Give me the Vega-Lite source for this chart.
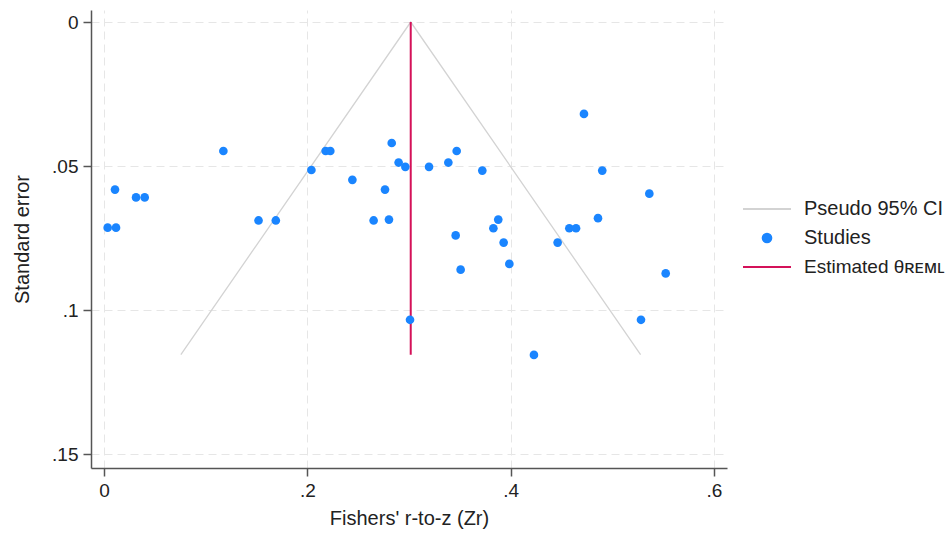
{
  "$schema": "https://vega.github.io/schema/vega-lite/v6.json",
  "autosize": {"type": "none"},
  "padding": {"left": 91, "top": 10, "right": 223, "bottom": 65},
  "width": 636,
  "height": 458,
  "background": "white",
  "config": {
    "view": {"stroke": null},
    "font": "Liberation Sans",
    "axis": {
      "labelFont": "Liberation Sans",
      "titleFont": "Liberation Sans",
      "labelFontSize": 19,
      "titleFontSize": 20,
      "titleFontWeight": "normal",
      "labelColor": "#222",
      "titleColor": "#222",
      "domainColor": "#555",
      "domainWidth": 1.5,
      "tickColor": "#555",
      "tickWidth": 1.5,
      "tickSize": 8,
      "gridColor": "#e6e6e6",
      "gridWidth": 1,
      "gridDash": [8, 5]
    }
  },
  "datasets": {
    "funnel": [
      {"series": "Pseudo 95% CI", "ord": 1, "zr": 0.0756, "se": 0.1155},
      {"series": "Pseudo 95% CI", "ord": 2, "zr": 0.3017, "se": 0.0},
      {"series": "Pseudo 95% CI", "ord": 3, "zr": 0.5278, "se": 0.1155}
    ],
    "estimate": [
      {"series": "Estimated θʀᴇᴍʟ", "zr": 0.3017, "se": 0.0, "se2": 0.1155}
    ],
    "studies": [
      {"series": "Studies", "zr": 0.0036, "se": 0.0714},
      {"series": "Studies", "zr": 0.0118, "se": 0.0714},
      {"series": "Studies", "zr": 0.0108, "se": 0.0582},
      {"series": "Studies", "zr": 0.0315, "se": 0.0609},
      {"series": "Studies", "zr": 0.0400, "se": 0.0609},
      {"series": "Studies", "zr": 0.1174, "se": 0.0448},
      {"series": "Studies", "zr": 0.1520, "se": 0.0689},
      {"series": "Studies", "zr": 0.1690, "se": 0.0689},
      {"series": "Studies", "zr": 0.2040, "se": 0.0514},
      {"series": "Studies", "zr": 0.2180, "se": 0.0448},
      {"series": "Studies", "zr": 0.2226, "se": 0.0448},
      {"series": "Studies", "zr": 0.2443, "se": 0.0548},
      {"series": "Studies", "zr": 0.2830, "se": 0.0420},
      {"series": "Studies", "zr": 0.2898, "se": 0.0488},
      {"series": "Studies", "zr": 0.2964, "se": 0.0503},
      {"series": "Studies", "zr": 0.2764, "se": 0.0582},
      {"series": "Studies", "zr": 0.2652, "se": 0.0689},
      {"series": "Studies", "zr": 0.2803, "se": 0.0686},
      {"series": "Studies", "zr": 0.3197, "se": 0.0503},
      {"series": "Studies", "zr": 0.3387, "se": 0.0488},
      {"series": "Studies", "zr": 0.3469, "se": 0.0448},
      {"series": "Studies", "zr": 0.3459, "se": 0.0741},
      {"series": "Studies", "zr": 0.3721, "se": 0.0516},
      {"series": "Studies", "zr": 0.4721, "se": 0.0319},
      {"series": "Studies", "zr": 0.4901, "se": 0.0516},
      {"series": "Studies", "zr": 0.5364, "se": 0.0596},
      {"series": "Studies", "zr": 0.3878, "se": 0.0686},
      {"series": "Studies", "zr": 0.3830, "se": 0.0716},
      {"series": "Studies", "zr": 0.3931, "se": 0.0766},
      {"series": "Studies", "zr": 0.4462, "se": 0.0766},
      {"series": "Studies", "zr": 0.4577, "se": 0.0716},
      {"series": "Studies", "zr": 0.4643, "se": 0.0716},
      {"series": "Studies", "zr": 0.4859, "se": 0.0681},
      {"series": "Studies", "zr": 0.3987, "se": 0.0840},
      {"series": "Studies", "zr": 0.3010, "se": 0.1034},
      {"series": "Studies", "zr": 0.3508, "se": 0.0860},
      {"series": "Studies", "zr": 0.5525, "se": 0.0873},
      {"series": "Studies", "zr": 0.5282, "se": 0.1034},
      {"series": "Studies", "zr": 0.4229, "se": 0.1156}
    ]
  },
  "encoding": {
    "x": {
      "field": "zr",
      "type": "quantitative",
      "scale": {"domain": [-0.0128, 0.6128], "nice": false, "zero": false},
      "axis": {
        "title": "Fishers' r-to-z (Zr)",
        "values": [0, 0.2, 0.4, 0.6],
        "labelExpr": "datum.value == 0 ? '0' : slice(format(datum.value, ''), 1)",
        "labelPadding": 5,
        "titlePadding": 8
      }
    },
    "y": {
      "field": "se",
      "type": "quantitative",
      "scale": {"domain": [-0.00417, 0.15486], "nice": false, "zero": false, "reverse": true},
      "axis": {
        "title": "Standard error",
        "values": [0, 0.05, 0.1, 0.15],
        "labelExpr": "datum.value == 0 ? '0' : slice(format(datum.value, ''), 1)",
        "labelPadding": 5,
        "titlePadding": 19
      }
    },
    "color": {
      "field": "series",
      "type": "nominal",
      "scale": {
        "domain": ["Pseudo 95% CI", "Studies", "Estimated θʀᴇᴍʟ"],
        "range": ["#d3d3d3", "#1a85ff", "#d41159"]
      },
      "legend": {
        "title": null,
        "orient": "none",
        "legendX": 652,
        "legendY": 188,
        "padding": 0,
        "labelFont": "Liberation Sans, Noto Sans",
        "labelFontSize": 20,
        "labelColor": "#222",
        "labelOffset": 13,
        "labelLimit": 200,
        "symbolType": "stroke",
        "symbolSize": 441,
        "symbolOffset": 0,
        "rowPadding": 8,
        "encode": {
          "symbols": {
            "update": {
              "shape": {"signal": "datum.value === 'Studies' ? 'circle' : 'stroke'"},
              "size": {"signal": "datum.value === 'Studies' ? 75 : 2304"},
              "fill": {"signal": "datum.value === 'Studies' ? '#1a85ff' : 'transparent'"},
              "stroke": {"signal": "datum.value === 'Studies' ? 'transparent' : (datum.value === 'Pseudo 95% CI' ? '#d3d3d3' : '#d41159')"},
              "strokeWidth": {"value": 2},
              "opacity": {"value": 1},
              "x": {"value": 24},
              "y": {"value": 11}
            }
          },
          "labels": {
            "update": {
              "x": {"value": 61},
              "y": {"value": 11},
              "fontSize": {"signal": "datum.value === 'Studies' || datum.value === 'Pseudo 95% CI' ? 20 : 19"}
            }
          }
        }
      }
    }
  },
  "layer": [
    {
      "data": {"name": "funnel"},
      "mark": {"type": "line", "strokeWidth": 1.3},
      "encoding": {"order": {"field": "ord", "type": "quantitative"}}
    },
    {
      "data": {"name": "estimate"},
      "mark": {"type": "rule", "strokeWidth": 2},
      "encoding": {"y2": {"field": "se2"}}
    },
    {
      "data": {"name": "studies"},
      "mark": {"type": "point", "filled": true, "size": 75, "opacity": 1, "shape": "circle"},
      "encoding": {}
    }
  ]
}
